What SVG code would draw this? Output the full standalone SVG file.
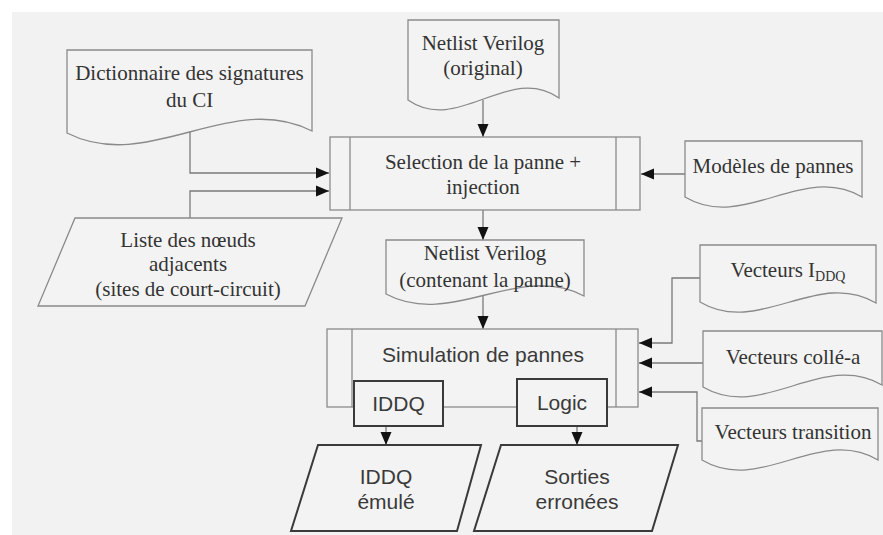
<svg xmlns="http://www.w3.org/2000/svg" width="883" height="535" viewBox="0 0 883 535">
<defs>
<style>
.doc{fill:#f3f3f3;stroke:#8a8a8a;stroke-width:1.3}
.proc{fill:#f3f3f3;stroke:#8a8a8a;stroke-width:1.3}
.dark{fill:#f3f3f3;stroke:#3a3a3a;stroke-width:2}
.conn{fill:none;stroke:#7a7a7a;stroke-width:1.3}
.serif{font-family:"Liberation Serif","Times New Roman",serif;font-size:21px;fill:#333;text-anchor:middle}
.sans{font-family:"Liberation Sans",Arial,sans-serif;font-size:21px;fill:#3a3a3a;text-anchor:middle}
</style>
<marker id="arr" markerUnits="userSpaceOnUse" markerWidth="13" markerHeight="12" viewBox="0 0 13 12" refX="13" refY="6" orient="auto">
<path d="M0,0.5 L13,6 L0,11.5 Z" fill="#111"/>
</marker>
</defs>
<rect x="0" y="0" width="883" height="535" fill="#ffffff"/>
<rect x="12" y="12" width="871" height="523" fill="#f2f2f2"/>

<g id="connectors">
<path class="conn" d="M190 132 V173 H329" marker-end="url(#arr)"/>
<path class="conn" d="M190 218 V191 H329" marker-end="url(#arr)"/>
<path class="conn" d="M483 100 V137" marker-end="url(#arr)"/>
<path class="conn" d="M685 174 H641" marker-end="url(#arr)"/>
<path class="conn" d="M483 210 V240" marker-end="url(#arr)"/>
<path class="conn" d="M483 296 V329" marker-end="url(#arr)"/>
<path class="conn" d="M700 278 H672 V343 H639" marker-end="url(#arr)"/>
<path class="conn" d="M703 363 H639" marker-end="url(#arr)"/>
<path class="conn" d="M702 441 H697 V392 H639" marker-end="url(#arr)"/>
<path class="conn" d="M386 427 V445" marker-end="url(#arr)"/>
<path class="conn" d="M577 427 V445" marker-end="url(#arr)"/>
</g>

<g id="dictionnaire">
<path class="doc" d="M67 50 H312 V131 C230.3 89.5 148.7 174.5 67 133 Z"/>
<text class="serif" x="189.5" y="80">Dictionnaire des signatures</text>
<text class="serif" x="189.5" y="107">du CI</text>
</g>

<g id="netlist-original">
<path class="doc" d="M408 20 H559 V98 C508.7 63 458.3 135 408 100 Z"/>
<text class="serif" x="483" y="50">Netlist Verilog</text>
<text class="serif" x="483" y="75">(original)</text>
</g>

<g id="selection">
<rect class="proc" x="330" y="137" width="310" height="73"/>
<line class="proc" x1="350" y1="137" x2="350" y2="210"/>
<line class="proc" x1="616" y1="137" x2="616" y2="210"/>
<text class="serif" x="483" y="169">Selection de la panne +</text>
<text class="serif" x="483" y="194">injection</text>
</g>

<g id="modeles">
<path class="doc" d="M685 141 H862 V197 C803 162 744 232 685 197 Z"/>
<text class="serif" x="773" y="173">Modèles de pannes</text>
</g>

<g id="liste-noeuds">
<path class="doc" d="M75 218 H342 L305 306 H38 Z"/>
<text class="serif" x="188" y="247">Liste des nœuds</text>
<text class="serif" x="188" y="271">adjacents</text>
<text class="serif" x="188" y="296">(sites de court-circuit)</text>
</g>

<g id="netlist-contenant">
<path class="doc" d="M386 240 H584 V296 C518 261 452 329 386 294 Z"/>
<text class="serif" x="485" y="260">Netlist Verilog</text>
<text class="serif" x="485" y="287">(contenant la panne)</text>
</g>

<g id="simulation">
<rect class="proc" x="327" y="329" width="311" height="78"/>
<line class="proc" x1="352" y1="329" x2="352" y2="407"/>
<line class="proc" x1="616" y1="329" x2="616" y2="407"/>
<text class="sans" x="483" y="362">Simulation de pannes</text>
</g>

<g id="iddq-box">
<rect class="dark" x="354" y="381" width="89" height="45"/>
<text class="sans" x="398.5" y="411">IDDQ</text>
</g>

<g id="logic-box">
<rect class="dark" x="517" y="379" width="90" height="47"/>
<text class="sans" x="562" y="410">Logic</text>
</g>

<g id="iddq-emule">
<path class="dark" d="M318 445 H481 L457 531 H291 Z"/>
<text class="sans" x="386" y="484">IDDQ</text>
<text class="sans" x="386" y="509">émulé</text>
</g>

<g id="sorties">
<path class="dark" d="M501 445 H678 L652 531 H474 Z"/>
<text class="sans" x="577" y="484">Sorties</text>
<text class="sans" x="577" y="509">erronées</text>
</g>

<g id="vecteurs-iddq">
<path class="doc" d="M700 245 H876 V303 C817.3 268 758.7 337 700 302 Z"/>
<text class="serif" x="788" y="277">Vecteurs I<tspan font-size="14" dy="4">DDQ</tspan></text>
</g>

<g id="vecteurs-colle">
<path class="doc" d="M703 331 H882 V385 C822.3 350 762.7 422 703 387 Z"/>
<text class="serif" x="793" y="364">Vecteurs collé-a</text>
</g>

<g id="vecteurs-transition">
<path class="doc" d="M702 408 H878 V460 C819.3 425 760.7 495 702 460 Z"/>
<text class="serif" x="793" y="439">Vecteurs transition</text>
</g>
</svg>
